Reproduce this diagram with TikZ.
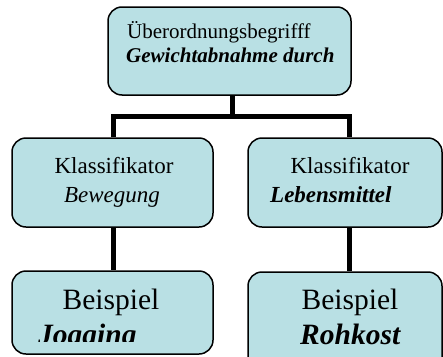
\documentclass[tikz,border=0pt]{standalone}
\usepackage{fontspec}
\setmainfont{Liberation Serif}
\definecolor{boxfill}{RGB}{185,224,228}
\begin{document}
\begin{tikzpicture}[x=1pt,y=-1pt,
  box/.style={draw=black,line width=1.5pt,fill=boxfill,rounded corners=14pt,inner sep=0pt},
  conn/.style={draw=black,line width=5pt},
  ttop/.style={inner sep=0pt,font=\fontsize{21}{25}\selectfont},
  tmid/.style={inner sep=0pt,font=\fontsize{23}{27}\selectfont},
  tbot/.style={inner sep=0pt,font=\fontsize{29.5}{34}\selectfont}]
\useasboundingbox (0,0) rectangle (443,356);
\clip (0,0) rectangle (443,356);
\fill[white] (0,0) rectangle (443,356);
% boxes
\node[box,minimum width=243pt,minimum height=88pt] (top) at (229.5,51) {};
\node[box,minimum width=201pt,minimum height=89pt] (midL) at (112.5,182.5) {};
\node[box,minimum width=194pt,minimum height=89pt] (midR) at (345,182.5) {};
\node[box,minimum width=201pt,minimum height=83pt] (botL) at (112.5,312.5) {};
\node[box,minimum width=194pt,minimum height=100pt] (botR) at (345,322) {};
% connector anchor points
\coordinate (topS) at ([xshift=2.5pt]top.south);
\coordinate (mLN) at ([xshift=0.5pt]midL.north);
\coordinate (mLS) at ([xshift=0.5pt]midL.south);
\coordinate (mRN) at ([xshift=4pt]midR.north);
\coordinate (mRS) at ([xshift=4pt]midR.south);
\coordinate (bLN) at ([xshift=0.5pt]botL.north);
\coordinate (bRN) at ([xshift=4pt]botR.north);
\coordinate (bar) at (0,116);
% connectors
\draw[conn] (topS) -- (topS |- bar);
\draw[conn] (mLN) |- (bar -| mRN) -- (mRN);
\draw[conn] (mLS) -- (bLN);
\draw[conn] (mRS) -- (bRN);
% texts
\node[ttop,anchor=base west] (t1) at (127,38) {Überordnungsbegrifff};
\node[ttop,anchor=base west] (t2) at (126,62) {\bfseries\itshape Gewichtabnahme durch};
\node[tmid,anchor=base] (m1) at (114,173) {Klassifikator};
\node[tmid,anchor=base] (m2) at (112,202) {\itshape Bewegung};
\node[tmid,anchor=base] (m3) at (350,173) {Klassifikator};
\node[tmid,anchor=base west] (m4) at (270,202) {\bfseries\itshape Lebensmittel};
\node[tbot,anchor=base] (b1) at (111,309) {Beispiel};
\node[tbot,anchor=base] (b3) at (350,309) {Beispiel};
\node[tbot,anchor=base west] (b4) at (300,344) {\bfseries\itshape Rohkost};
\begin{scope}
\clip (0,300) rectangle (443,341.5);
\node[tbot,anchor=base west] (b2) at (38,344) {\bfseries\itshape Jogging};
\end{scope}
\end{tikzpicture}
\end{document}
